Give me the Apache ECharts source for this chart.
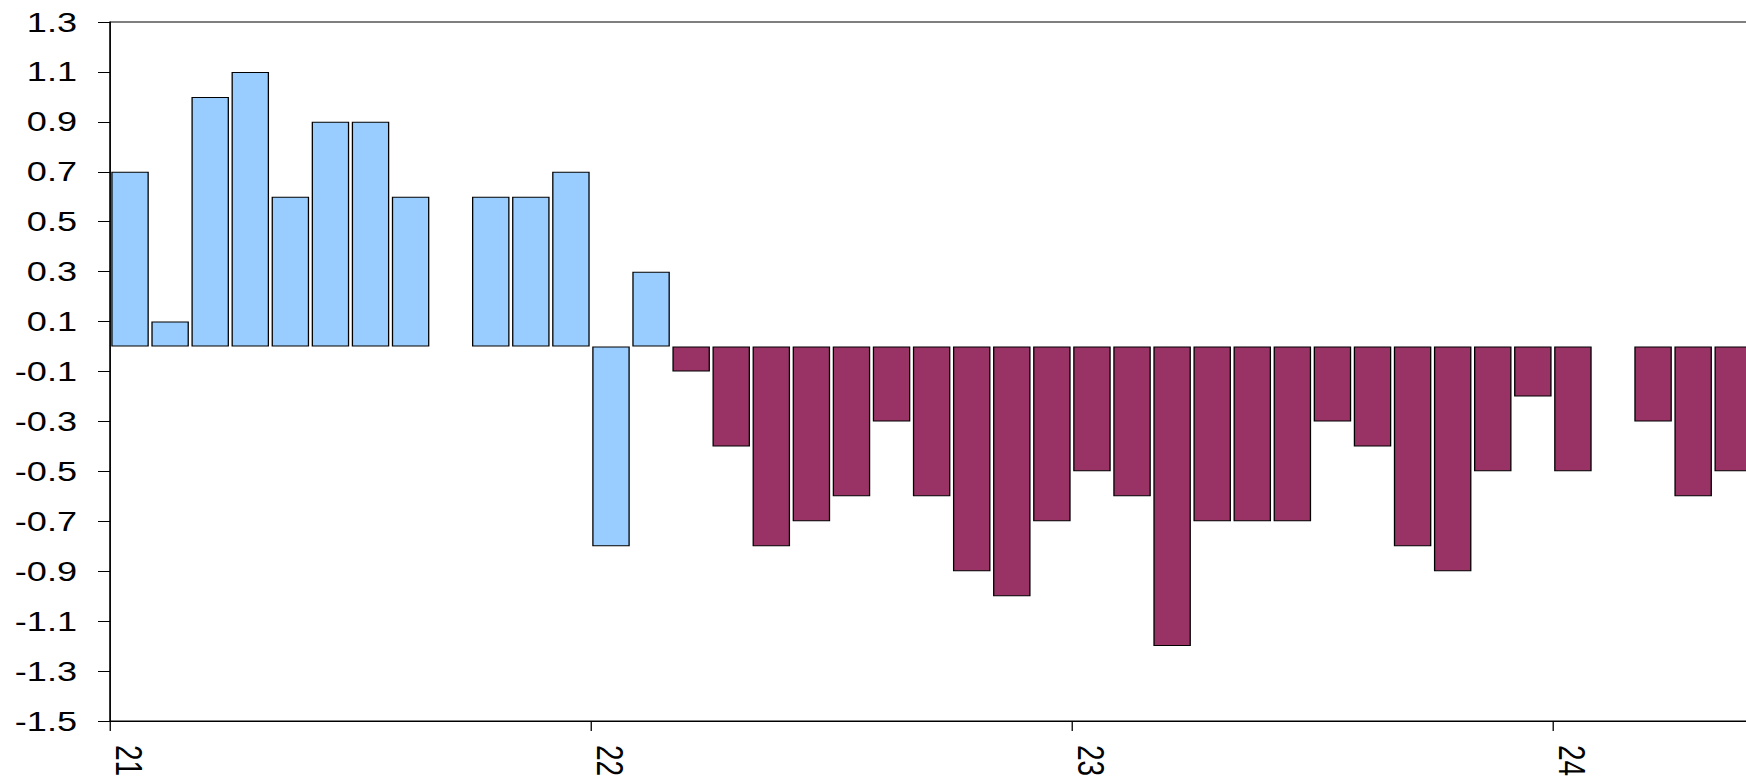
<!DOCTYPE html>
<html>
<head>
<meta charset="utf-8">
<script src="https://cdn.jsdelivr.net/npm/echarts@6/dist/echarts.min.js"></script>
<style>
  html, body { margin: 0; padding: 0; background: #fff; overflow: hidden; }
  /* The reference is drawn horizontally stretched; reproduce by a horizontal scale. */
  #chart { width: 1354px; height: 779px; transform-origin: 0 0; transform: scaleX(1.28951); }
</style>
</head>
<body>
<div id="chart"></div>
<script>
// Months from Jan 2021 (index 0) onward
const months = [
  '2021-01','2021-02','2021-03','2021-04','2021-05','2021-06','2021-07','2021-08','2021-09','2021-10','2021-11','2021-12',
  '2022-01','2022-02','2022-03','2022-04','2022-05','2022-06','2022-07','2022-08','2022-09','2022-10','2022-11','2022-12',
  '2023-01','2023-02','2023-03','2023-04','2023-05','2023-06','2023-07','2023-08','2023-09','2023-10','2023-11','2023-12',
  '2024-01','2024-02','2024-03','2024-04','2024-05'
];
// Light-blue series (through Feb 2022)
const blueValues = [
  0.7, 0.1, 1.0, 1.1, 0.6, 0.9, 0.9, 0.6, null, 0.6, 0.6, 0.7,
  -0.8, 0.3
];
// Maroon series (from Mar 2022)
const maroonValues = [
  -0.1, -0.4, -0.8, -0.7, -0.6, -0.3, -0.6, -0.9, -1.0, -0.7,
  -0.5, -0.6, -1.2, -0.7, -0.7, -0.7, -0.3, -0.4, -0.8, -0.9, -0.5, -0.2,
  -0.5, null, -0.3, -0.6, -0.5
];
const maroonStart = 14; // index of first maroon month in `months`
const yearLabels = ['21', '22', '23', '24'];
const yTicks = { min: -1.5, max: 1.3, step: 0.2 };

const FONT = '"Liberation Sans", Arial, sans-serif';
const SX = 1.28951;           // horizontal stretch applied by CSS
const W = 1354;               // unstretched chart width
const LEFT = 110 / SX;
const PITCH = 40.08 / SX;     // px per month before stretch

function toPoints(values, offset) {
  const out = [];
  values.forEach((v, i) => {
    if (v !== null) out.push([offset + i + 0.5, v]);
  });
  return out;
}

const chart = echarts.init(document.getElementById('chart'), null, { renderer: 'svg', width: W, height: 779 });
chart.setOption({
  backgroundColor: '#ffffff',
  animation: false,
  grid: {
    left: LEFT, top: 22, bottom: 58, right: W - LEFT - 48 * PITCH,
    outerBoundsMode: 'none',
    show: true, borderColor: '#000', borderWidth: 1, backgroundColor: 'transparent',
    containLabel: false
  },
  xAxis: {
    type: 'value',
    min: 0, max: 48, interval: 12,
    splitLine: { show: false },
    axisLine: { show: true, onZero: false, lineStyle: { color: '#000', width: 1 } },
    axisTick: { show: true, length: 10, lineStyle: { color: '#000', width: 1 } },
    axisLabel: {
      show: true, rotate: -90, margin: 24, showMaxLabel: false,
      verticalAlign: 'bottom',
      color: '#000', fontFamily: FONT, fontSize: 28,
      formatter: v => yearLabels[Math.round(v / 12)] || ''
    }
  },
  yAxis: {
    type: 'value',
    min: yTicks.min, max: yTicks.max, interval: yTicks.step,
    splitLine: { show: false },
    axisLine: { show: true, lineStyle: { color: '#000', width: 1 } },
    axisTick: { show: true, length: 12 / SX, lineStyle: { color: '#000', width: 1 } },
    axisLabel: {
      margin: 33 / SX, color: '#000', fontFamily: FONT, fontSize: 28,
      formatter: v => v.toFixed(1)
    }
  },
  series: [
    {
      name: 'blue', type: 'bar', barWidth: 37.5 / SX, barGap: '-100%',
      itemStyle: { color: '#99CCFF', borderColor: '#000', borderWidth: 1 },
      data: toPoints(blueValues, 0)
    },
    {
      name: 'maroon', type: 'bar', barWidth: 37.5 / SX, barGap: '-100%',
      itemStyle: { color: '#993366', borderColor: '#000', borderWidth: 1 },
      data: toPoints(maroonValues, maroonStart)
    }
  ]
});
</script>
</body>
</html>
